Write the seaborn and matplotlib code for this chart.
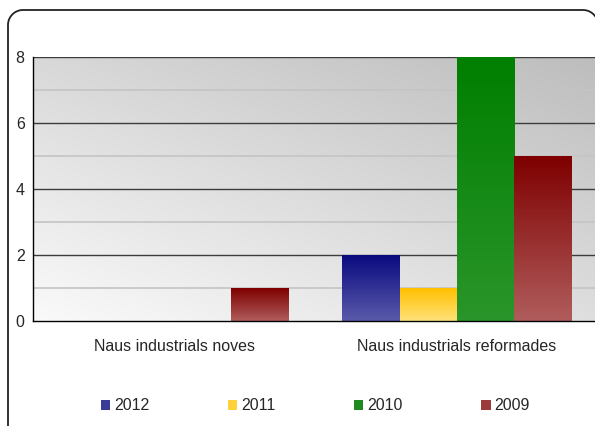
import numpy as np
import pandas as pd
import seaborn as sns
import matplotlib.pyplot as plt
from matplotlib.patches import Patch
from matplotlib.lines import Line2D
from matplotlib.transforms import IdentityTransform
from matplotlib.colors import LinearSegmentedColormap

# chart data
categories = ["Naus industrials noves", "Naus industrials reformades"]
years = ["2012", "2011", "2010", "2009"]
values_2012 = [0, 2]
values_2011 = [0, 1]
values_2010 = [0, 8]
values_2009 = [1, 5]

# top / bottom colours of each bar gradient
top_colors = ["#0a0a80", "#ffc000", "#007f00", "#7f0000"]
bottom_colors = ["#5a5aaa", "#ffe27a", "#2a952a", "#b05c5c"]

sns.set_style("white")
plt.rcParams["font.family"] = ["Liberation Sans", "DejaVu Sans"]

rows = []
for year, vals in zip(years, [values_2012, values_2011, values_2010, values_2009]):
    for cat, v in zip(categories, vals):
        rows.append({"cat": cat, "year": year, "value": v})
df = pd.DataFrame(rows)

W, H = 595, 426
fig = plt.figure(figsize=(W / 100, H / 100), dpi=100)
ax = fig.add_axes([33 / W, (H - 321) / H, (598 - 33) / W, (321 - 57) / H])

sns.barplot(data=df, x="cat", y="value", hue="year", hue_order=years,
            order=categories, width=0.81, ax=ax, legend=False,
            palette=bottom_colors, saturation=1)

ax.set_xlim(-0.5, 1.5)
ax.set_ylim(0, 8)

# diagonal grey gradient for the plot area
gx, gy = np.meshgrid(np.linspace(0, 1, 200), np.linspace(0, 1, 200))
grad = (gx * 0.45 + gy * 0.55)
bg_cmap = LinearSegmentedColormap.from_list("bg", ["#fafafa", "#bdbdbd"])
ax.imshow(grad, cmap=bg_cmap, origin="lower", extent=[0, 1, 0, 1],
          transform=ax.transAxes, aspect="auto", zorder=0)

# gridlines
for y in [1, 3, 5, 7]:
    ax.axhline(y, color="#c4c4c4", lw=1.2, zorder=1)
for y in [2, 4, 6, 8]:
    ax.axhline(y, color="#3c3c3c", lw=1.0, zorder=1)

# replace flat bars by vertical gradients
for i, cont in enumerate(ax.containers):
    cmap = LinearSegmentedColormap.from_list("b%d" % i, [bottom_colors[i], top_colors[i]])
    for bar in cont:
        h = bar.get_height()
        bar.set_visible(False)
        if h <= 0:
            continue
        x0 = bar.get_x()
        ax.imshow(np.linspace(0, 1, 100).reshape(-1, 1), cmap=cmap, origin="lower",
                  extent=[x0, x0 + bar.get_width(), 0, h], aspect="auto", zorder=2)

ax.set_xlim(-0.5, 1.5)
ax.set_ylim(0, 8)

for s in ["top", "right"]:
    ax.spines[s].set_visible(False)
for s in ["left", "bottom"]:
    ax.spines[s].set_color("black")
    ax.spines[s].set_linewidth(1.0)
    ax.spines[s].set_zorder(3)

ax.set_yticks([0, 2, 4, 6, 8])
ax.set_xticks([0, 1])
ax.set_xticklabels(categories)
ax.set_xticks([-0.5, 0.5], minor=True)
ax.tick_params(axis="x", which="major", length=0, pad=13, labelsize=11.5)
ax.tick_params(axis="x", which="minor", length=5, width=1, color="black", direction="out")
ax.tick_params(axis="y", length=4, width=1, color="black", direction="out", pad=2, labelsize=11.5)
ax.set_xlabel("")
ax.set_ylabel("")

handles = [Patch(facecolor=c, edgecolor="none") for c in ["#3a3a98", "#ffd23c", "#1f8a1f", "#9a3a3a"]]
fig.legend(handles, years, loc="center", bbox_to_anchor=(0.53, (H - 406) / H), ncol=4,
           frameon=False, fontsize=11.5, handlelength=0.6, handleheight=0.6,
           handletextpad=0.25, columnspacing=4.9)

# rounded chart border, drawn in pixels (left, top and top-right corner visible)
r = 15
left, right, top, bottom = 8, 598, H - 10, -20
t1 = np.linspace(np.pi, np.pi / 2, 20)
t2 = np.linspace(np.pi / 2, 0, 20)
bx = np.concatenate([[left], left + r + r * np.cos(t1), right - r + r * np.cos(t2), [right]])
by = np.concatenate([[bottom], top - r + r * np.sin(t1), top - r + r * np.sin(t2), [bottom]])
fig.add_artist(Line2D(bx, by, transform=IdentityTransform(), color="#222222", lw=1.3))

fig.savefig("out.png", dpi=100)
